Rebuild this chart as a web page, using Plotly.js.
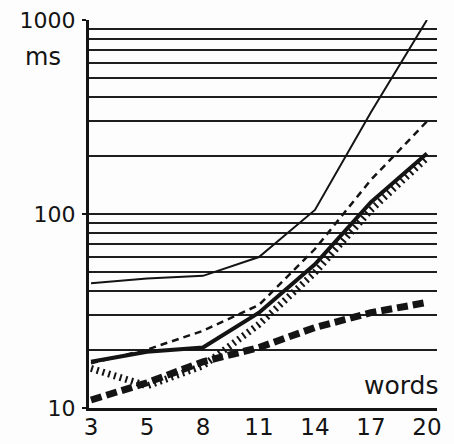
<!DOCTYPE html>
<html>
<head>
<meta charset="utf-8">
<script src="https://cdn.plot.ly/plotly-3.0.1.min.js"></script>
<style>html,body{margin:0;padding:0;background:#fff;}#chart{width:454px;height:444px;}</style>
</head>
<body>
<div id="chart"></div>
<script>
// categories (words)
const words = ['3', '5', '8', '11', '14', '17', '20'];
// series values (ms)
const thinSolid   = [44, 46.5, 48, 60, 105, 335, 1000];
const dashed      = [17, 20, 25, 34, 66, 150, 300];
const thickSolid  = [17.3, 19.5, 20.5, 31, 55, 115, 205];
const comb        = [16, 13, 16.5, 27, 50, 105, 195];
const boldDashed  = [11, 13.5, 17.3, 20.5, 26, 31, 35];
// axis labels
const yTickVals = [10, 100, 1000];
const yTickText = ['10', '100', '1000'];
const yMinorVals = [20, 30, 40, 50, 60, 70, 80, 90, 200, 300, 400, 500, 600, 700, 800, 900];

const ink = '#141414';
const traces = [
  {x: words, y: comb, mode: 'lines', line: {color: ink, width: 7, dash: '2px,4px'}},
  {x: words, y: boldDashed, mode: 'lines', line: {color: ink, width: 7, dash: '11px,5px'}},
  {x: words, y: thickSolid, mode: 'lines', line: {color: ink, width: 4}},
  {x: words, y: dashed, mode: 'lines', line: {color: ink, width: 2.5, dash: '7px,5px'}},
  {x: words, y: thinSolid, mode: 'lines', line: {color: ink, width: 2}}
];

const fam = 'DejaVu Sans, Verdana, sans-serif';
const layout = {
  width: 454, height: 444,
  margin: {l: 89, r: 17, t: 20, b: 36},
  paper_bgcolor: '#fdfdfd', plot_bgcolor: '#fdfdfd',
  showlegend: false,
  font: {family: fam, color: ink},
  xaxis: {
    type: 'category', range: [-0.036, 6.18],
    showgrid: false, zeroline: false,
    showline: true, linecolor: ink, linewidth: 3,
    ticks: '', ticklabelstandoff: -4,
    tickfont: {size: 23, family: fam, color: ink}
  },
  yaxis: {
    type: 'log', range: [1, 3],
    tickvals: yTickVals, ticktext: yTickText,
    ticks: 'outside', ticklen: 4, tickwidth: 2, tickcolor: ink,
    ticklabelstandoff: 2,
    tickfont: {size: 22, family: fam, color: ink},
    showgrid: true, gridcolor: '#1e1e1e', gridwidth: 2,
    minor: {tickvals: yMinorVals, showgrid: true, gridcolor: '#1e1e1e', gridwidth: 2, ticks: ''},
    showline: true, linecolor: ink, linewidth: 3, zeroline: false
  },
  annotations: [
    {text: 'ms', xref: 'paper', yref: 'paper', x: -0.132, y: 0.905, xanchor: 'center', yanchor: 'middle',
     showarrow: false, font: {size: 24, family: fam, color: ink}},
    {text: 'words', xref: 'paper', yref: 'paper', x: 0.897, y: 0.059, xanchor: 'center', yanchor: 'middle',
     showarrow: false, font: {size: 25, family: fam, color: ink}}
  ]
};

Plotly.newPlot('chart', traces, layout, {staticPlot: true, displayModeBar: false});
</script>
</body>
</html>
